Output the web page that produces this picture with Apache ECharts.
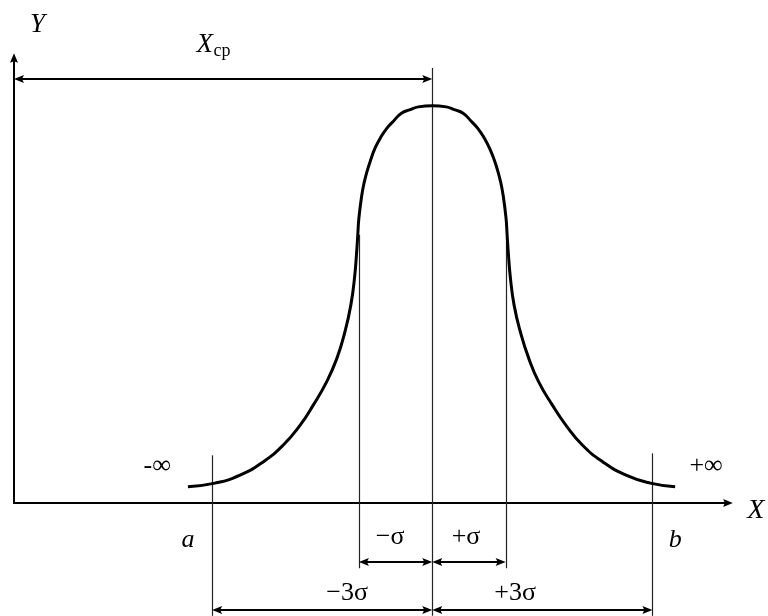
<!DOCTYPE html>
<html>
<head>
<meta charset="utf-8">
<title>Кривая нормального распределения</title>
<script src="https://cdn.jsdelivr.net/npm/echarts@6/dist/echarts.min.js"></script>
<style>
  html, body { margin: 0; padding: 0; background: #fff; }
  #chart { width: 768px; height: 616px; }
</style>
</head>
<body>
<div id="chart"></div>
<script>
// кривая: x — отклонение от X_ср в единицах σ, y — высота относительно вершины
const curveX = [-3.33, -2.96, -2.62, -2.30, -2.03, -1.80, -1.62, -1.44, -1.30, -1.19, -1.11, -1.06, -1.03, -1.015,
  -1.00, -0.96, -0.93, -0.89, -0.84, -0.78, -0.71, -0.62, -0.53, -0.42, -0.30, -0.19, 0,
  0.19, 0.30, 0.42, 0.53, 0.62, 0.71, 0.78, 0.845, 0.895, 0.935, 0.965, 1.005, 1.02, 1.035, 1.065, 1.115, 1.20,
  1.315, 1.45, 1.635, 1.82, 2.045, 2.32, 2.64, 2.97, 3.31]
const curveY = [0.041, 0.050, 0.070, 0.104, 0.146, 0.196, 0.247, 0.305, 0.364, 0.431, 0.498, 0.566, 0.633, 0.675,
  0.717, 0.775, 0.805, 0.834, 0.863, 0.893, 0.918, 0.943, 0.961, 0.981, 0.990, 0.997, 1.0,
  0.997, 0.990, 0.981, 0.961, 0.943, 0.918, 0.893, 0.863, 0.834, 0.805, 0.775, 0.717, 0.675, 0.633, 0.566, 0.498, 0.431,
  0.364, 0.305, 0.247, 0.196, 0.146, 0.104, 0.070, 0.050, 0.041]

// вертикальные линии: a, −σ, X_ср, +σ, b
const guideX = [-3, -1, 0, 1, 3]
const guideTop = [0.12, 0.675, 1.095, 0.67, 0.125]
const guideBottom = [-0.284, -0.164, -0.284, -0.164, -0.284]

// размерные стрелки [от, до, уровень]
const dimFrom = [-5.7, -1, 0, -3, 0]
const dimTo = [0, 0, 1, 0, 3]
const dimLevel = [1.067, -0.1485, -0.1485, -0.269, -0.269]

// подписи
const noteText = ['Y', 'X', 'X', 'ср', '-∞', '+∞', 'a', 'b', '−σ', '+σ', '−3σ', '+3σ']
const noteX = [-5.38, 4.41, -3.10, -2.865, -3.75, 3.73, -3.33, 3.31, -0.575, 0.46, -1.16, 1.13]
const noteY = [1.203, -0.020, 1.153, 1.138, 0.093, 0.093, -0.093, -0.093, -0.086, -0.086, -0.227, -0.227]

const SERIF = '"Liberation Serif", "Times New Roman", serif'
const noteFont = [
  'italic 27px', 'italic 28px', 'italic 27px', '18px', '26px', '26px',
  'italic 26px', 'italic 26px', '26px', '26px', '26px', '26px'
]

const chart = echarts.init(document.getElementById('chart'), null, { renderer: 'canvas' })

// стрелка на конце оси
const axisArrow = 'path://M5,0L10,12L5,10L0,12Z'

const option = {
  backgroundColor: '#fff',
  animation: false,
  grid: { left: 14, right: 40, top: 58, bottom: 113 },
  xAxis: {
    type: 'value',
    min: -5.7,
    max: 4.03,
    axisLine: {
      onZero: false,
      symbol: ['none', axisArrow],
      symbolSize: [8, 11],
      lineStyle: { color: '#000', width: 2 }
    },
    axisTick: { show: false },
    axisLabel: { show: false },
    splitLine: { show: false }
  },
  yAxis: {
    type: 'value',
    min: 0,
    max: 1.12,
    axisLine: {
      show: true,
      onZero: false,
      symbol: ['none', axisArrow],
      symbolSize: [8, 11],
      lineStyle: { color: '#000', width: 2 }
    },
    axisTick: { show: false },
    axisLabel: { show: false },
    splitLine: { show: false }
  },
  series: [
    {
      name: 'guides',
      type: 'custom',
      silent: true,
      data: guideX.map((x, i) => [x, guideTop[i], guideBottom[i]]),
      renderItem: (params, api) => {
        const p1 = api.coord([api.value(0), api.value(1)])
        const p2 = api.coord([api.value(0), api.value(2)])
        const x = Math.round(p1[0]) + 0.5
        return {
          type: 'line',
          shape: { x1: x, y1: p1[1], x2: x, y2: p2[1] },
          style: { stroke: '#222', lineWidth: 1.2 }
        }
      }
    },
    {
      name: 'curve',
      type: 'line',
      smooth: 0.5,
      symbol: 'none',
      silent: true,
      lineStyle: { color: '#000', width: 3 },
      data: curveX.map((x, i) => [x, curveY[i]]),
      z: 3
    },
    {
      name: 'dims',
      type: 'custom',
      silent: true,
      data: dimFrom.map((x, i) => [x, dimTo[i], dimLevel[i]]),
      renderItem: (params, api) => {
        const p1 = api.coord([api.value(0), api.value(2)])
        const p2 = api.coord([api.value(1), api.value(2)])
        const y = Math.round(p1[1])
        const L = 10, W = 4
        return {
          type: 'group',
          children: [
            {
              type: 'line',
              shape: { x1: p1[0] + 4, y1: y, x2: p2[0] - 4, y2: y },
              style: { stroke: '#000', lineWidth: 2 }
            },
            {
              type: 'polygon',
              shape: { points: [[p1[0], y], [p1[0] + L, y - W], [p1[0] + L - 2, y], [p1[0] + L, y + W]] },
              style: { fill: '#000' }
            },
            {
              type: 'polygon',
              shape: { points: [[p2[0], y], [p2[0] - L, y - W], [p2[0] - L + 2, y], [p2[0] - L, y + W]] },
              style: { fill: '#000' }
            }
          ]
        }
      },
      z: 4
    },
    {
      name: 'notes',
      type: 'custom',
      silent: true,
      data: noteX.map((x, i) => [x, noteY[i]]),
      renderItem: (params, api) => {
        const p = api.coord([api.value(0), api.value(1)])
        const i = params.dataIndex
        return {
          type: 'text',
          x: p[0],
          y: p[1],
          style: {
            text: noteText[i],
            font: noteFont[i] + ' ' + SERIF,
            fill: '#000',
            align: 'center',
            verticalAlign: 'middle'
          }
        }
      },
      z: 5
    }
  ]
}

chart.setOption(option)
</script>
</body>
</html>
